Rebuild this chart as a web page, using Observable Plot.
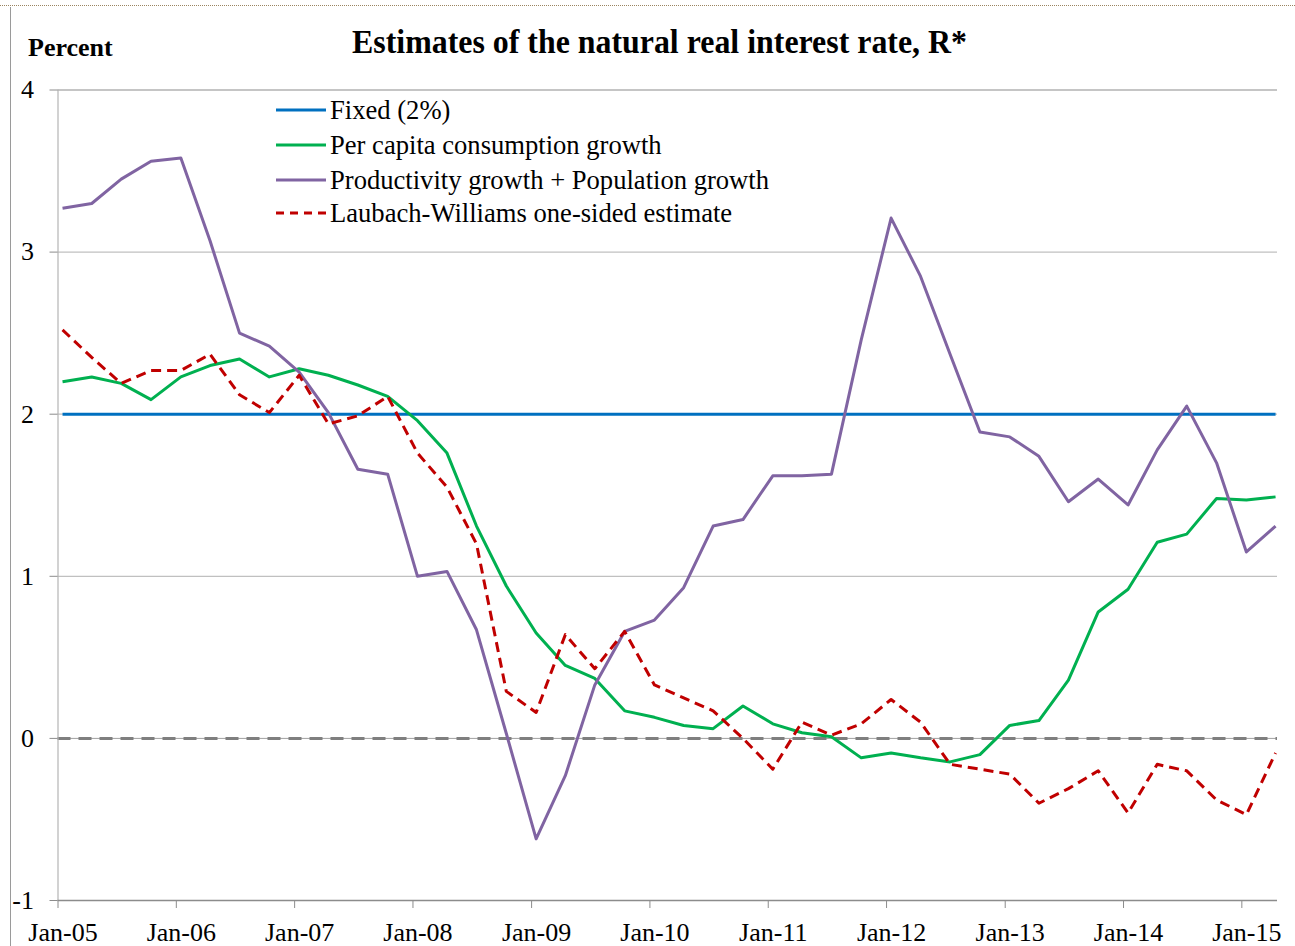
<!DOCTYPE html>
<html>
<head>
<meta charset="utf-8">
<script src="https://cdn.jsdelivr.net/npm/d3@7"></script>
<script src="https://cdn.jsdelivr.net/npm/@observablehq/plot@0.6"></script>
<style>
  body { margin: 0; background: #fff; }
  #wrap { position: relative; width: 1295px; height: 946px; overflow: hidden; background: #fff;
          font-family: "Liberation Serif", "Times New Roman", serif; }
  #frameTop { position: absolute; left: 0; top: 5px; width: 1295px; border-top: 1px dotted #9a8460; }
  #frameLeft { position: absolute; left: 10px; top: 7px; height: 940px; border-left: 1px solid #9a9a9a; }
  #chart { position: absolute; left: 0; top: 0; }
  #ylabel { position: absolute; left: 28px; top: 33px; font-weight: bold; font-size: 26px; line-height: 30px; color: #000; }
  #titleSvg, #legendSvg { position: absolute; left: 0; top: 0; overflow: visible; }
</style>
</head>
<body>
<div id="wrap">
  <div id="chart"></div>
  <div id="frameTop"></div>
  <div id="frameLeft"></div>
  <div id="ylabel">Percent</div>
</div>
<script>
// ---- data (quarterly) ----
const quarters = [
  "2005-01","2005-04","2005-07","2005-10",
  "2006-01","2006-04","2006-07","2006-10",
  "2007-01","2007-04","2007-07","2007-10",
  "2008-01","2008-04","2008-07","2008-10",
  "2009-01","2009-04","2009-07","2009-10",
  "2010-01","2010-04","2010-07","2010-10",
  "2011-01","2011-04","2011-07","2011-10",
  "2012-01","2012-04","2012-07","2012-10",
  "2013-01","2013-04","2013-07","2013-10",
  "2014-01","2014-04","2014-07","2014-10",
  "2015-01","2015-04"
];
const fixedRate = [
  2,2,2,2, 2,2,2,2, 2,2,2,2, 2,2,2,2, 2,2,2,2, 2,2,2,2,
  2,2,2,2, 2,2,2,2, 2,2,2,2, 2,2,2,2, 2,2
];
const consumptionGrowth = [
  2.20,2.23,2.19,2.09, 2.23,2.30,2.34,2.23, 2.28,2.24,2.18,2.11,
  1.96,1.76,1.31,0.94, 0.65,0.45,0.37,0.17, 0.13,0.08,0.06,0.20,
  0.09,0.035,0.01,-0.12, -0.09,-0.12,-0.145,-0.10, 0.08,0.11,0.36,0.78,
  0.92,1.21,1.26,1.48, 1.47,1.49
];
const productivityPopulation = [
  3.27,3.30,3.45,3.56, 3.58,3.07,2.50,2.42, 2.26,2.01,1.66,1.63,
  1.00,1.03,0.67,0.03, -0.62,-0.23,0.33,0.66, 0.73,0.93,1.31,1.35,
  1.62,1.62,1.63,2.46, 3.21,2.85,2.37,1.89, 1.86,1.74,1.46,1.60,
  1.44,1.78,2.05,1.70, 1.15,1.31
];
const laubachWilliams = [
  2.52,2.35,2.19,2.27, 2.27,2.37,2.12,2.01, 2.24,1.94,1.99,2.11,
  1.76,1.55,1.20,0.29, 0.16,0.64,0.43,0.66, 0.33,0.25,0.17,0.00,
  -0.19,0.10,0.02,0.09, 0.24,0.10,-0.16,-0.19, -0.22,-0.40,-0.31,-0.20,
  -0.46,-0.16,-0.20,-0.38, -0.47,-0.09
];
const seriesNames = [
  "Fixed (2%)",
  "Per capita consumption growth",
  "Productivity growth + Population growth",
  "Laubach-Williams one-sided estimate"
];
const seriesColors = ["#0070C0", "#00B050", "#8064A2", "#C00000"];
const seriesDash = [null, null, null, "10,6"];
const legendDash = [null, null, null, "8,6"];
const yTicks = [-1, 0, 1, 2, 3, 4];
const gridLines = [1, 2, 3, 4];
const tickYears = ["2005","2006","2007","2008","2009","2010","2011","2012","2013","2014","2015"];
const titleText = "Estimates of the natural real interest rate, R*";

// ---- build table ----
const parseQ = d3.utcParse("%Y-%m-%d");
const seriesValues = [fixedRate, consumptionGrowth, productivityPopulation, laubachWilliams];
const rows = [];
seriesValues.forEach((vals, s) => {
  vals.forEach((v, i) => rows.push({date: parseQ(quarters[i] + "-15"), value: v, series: seriesNames[s]}));
});
const xTicks = tickYears.map(y => parseQ(y + "-01-01"));
const xStart = parseQ("2005-01-01");
const xEnd = parseQ("2015-04-21");

const lineMarks = seriesNames.map((name, s) =>
  Plot.lineY(rows.filter(r => r.series === name), {
    x: "date", y: "value",
    stroke: seriesColors[s], strokeWidth: 3,
    strokeDasharray: seriesDash[s] || undefined,
    strokeLinejoin: "round", strokeLinecap: "butt"
  })
);

const chart = Plot.plot({
  width: 1295,
  height: 946,
  marginLeft: 57.5,
  marginRight: 18,
  marginTop: 89.5,
  marginBottom: 46,
  style: {fontFamily: "'Liberation Serif', 'Times New Roman', serif", fontSize: "26px", color: "#000", background: "transparent"},
  x: {type: "utc", domain: [xStart, xEnd]},
  y: {domain: [-1, 4]},
  marks: [
    Plot.ruleY(gridLines, {stroke: d => d === 4 ? "#8c8c8c" : "#c0c0c0", strokeWidth: 1.2}),
    Plot.ruleY([0], {stroke: "#a0a0a0", strokeWidth: 1}),
    Plot.ruleY([0], {stroke: "#7f7f7f", strokeWidth: 3, strokeDasharray: "13,8"}),
    Plot.ruleX([xStart], {stroke: "#b4b4b4", strokeWidth: 1.2}),
    Plot.ruleY([-1], {stroke: "#8c8c8c", strokeWidth: 1.5}),
    ...lineMarks,
    // tick marks only
    Plot.axisX({ticks: xTicks, tickFormat: () => "", tickSize: 8, stroke: "#8c8c8c", label: null}),
    // labels only, nudged right as in the original
    Plot.axisX({ticks: xTicks, tickFormat: d3.utcFormat("%b-%y"), tickSize: 0, tickPadding: 22,
                fill: "#000", fontSize: 26, dx: 5, label: null}),
    Plot.axisY({ticks: yTicks, tickFormat: d => d < 0 ? "-" + Math.abs(d) : String(d), tickSize: 8, tickPadding: 16,
                stroke: "#8c8c8c", fill: "#000", fontSize: 26, label: null})
  ]
});
document.getElementById("chart").appendChild(chart);

// ---- title (svg text fitted to width) ----
const wrap = d3.select("#wrap");
const tsvg = wrap.append("svg").attr("id", "titleSvg").attr("width", 1295).attr("height", 80);
tsvg.append("text")
  .attr("x", 352).attr("y", 53)
  .attr("textLength", 615).attr("lengthAdjust", "spacingAndGlyphs")
  .style("font-family", "'Liberation Serif', 'Times New Roman', serif")
  .style("font-weight", "bold").style("font-size", "34px")
  .text(titleText);

// ---- legend ----
const lsvg = wrap.append("svg").attr("id", "legendSvg").attr("width", 1295).attr("height", 260);
const legendY = [110, 145, 180, 213];
seriesNames.forEach((name, s) => {
  lsvg.append("line")
    .attr("x1", 276).attr("x2", 326).attr("y1", legendY[s]).attr("y2", legendY[s])
    .attr("stroke", seriesColors[s]).attr("stroke-width", 3)
    .attr("stroke-dasharray", legendDash[s]);
  lsvg.append("text")
    .attr("x", 330).attr("y", legendY[s]).attr("dy", "0.35em")
    .style("font-family", "'Liberation Serif', 'Times New Roman', serif")
    .style("font-size", "26.6px")
    .text(name);
});
</script>
</body>
</html>
